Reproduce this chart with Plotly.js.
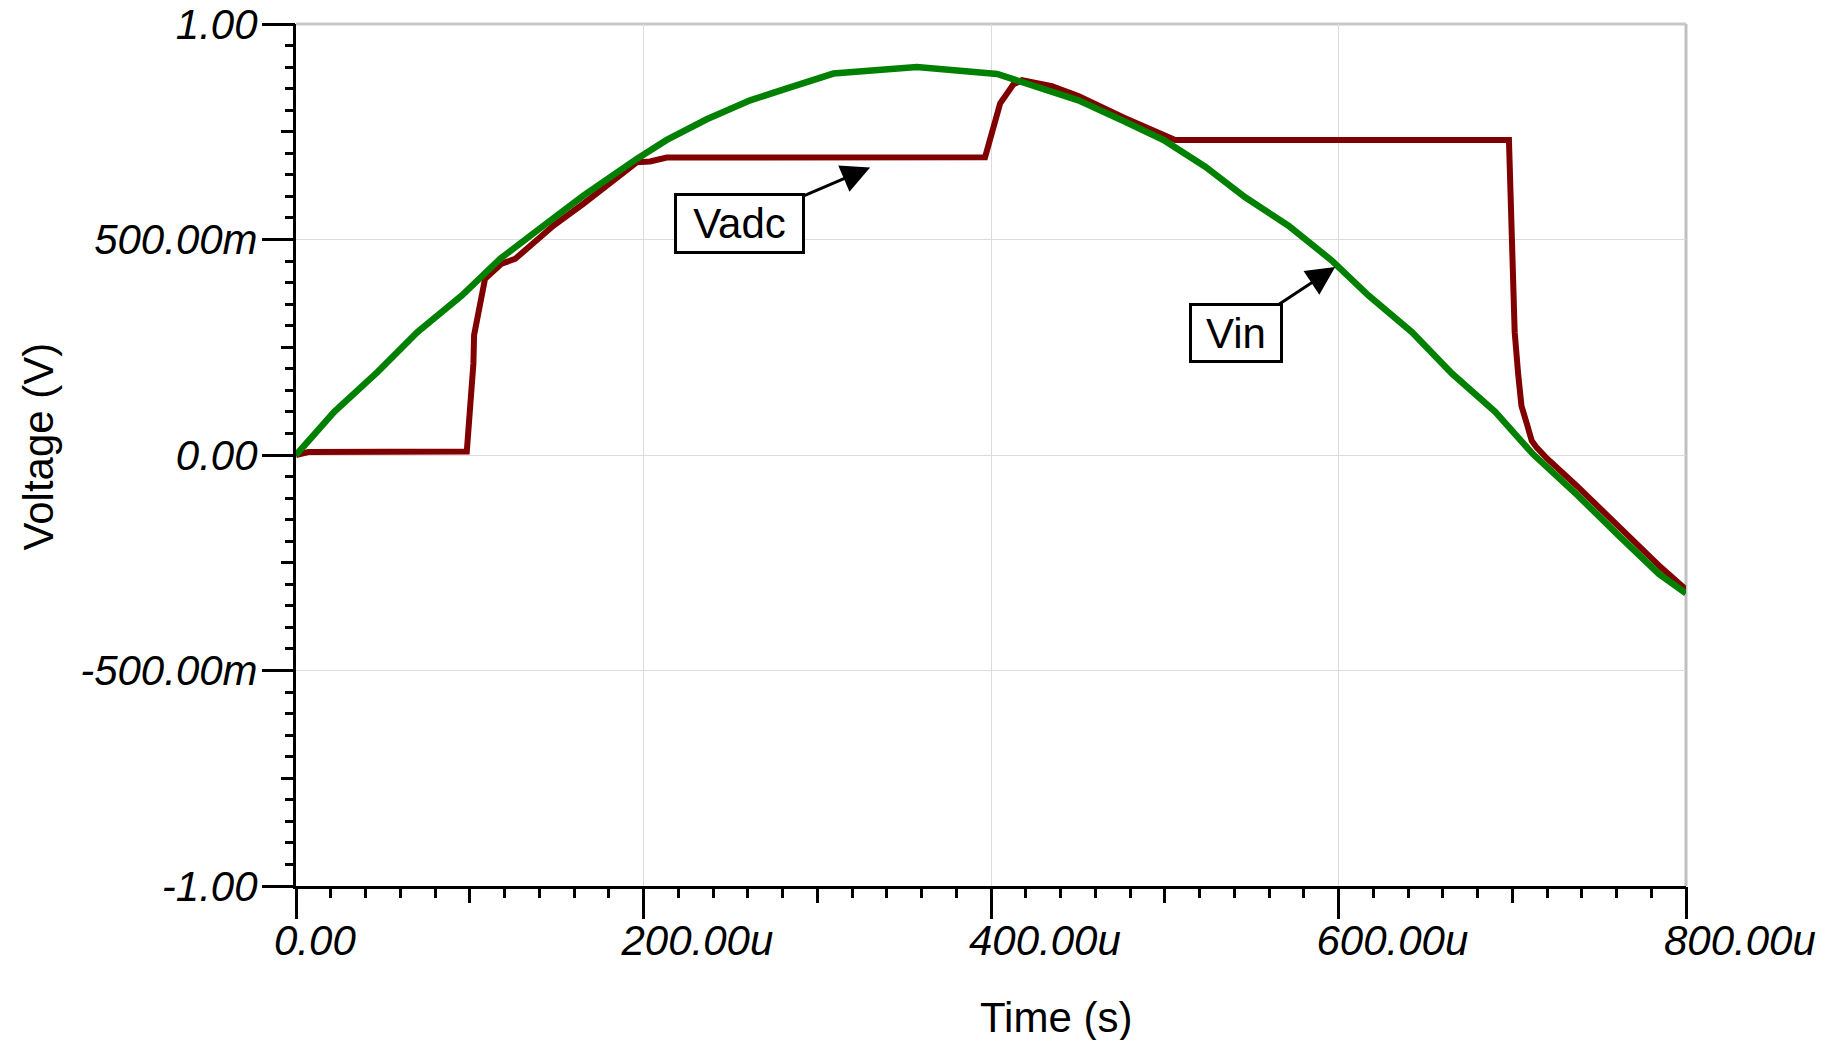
<!DOCTYPE html>
<html>
<head>
<meta charset="utf-8">
<script src="https://cdn.plot.ly/plotly-3.0.1.min.js"></script>
<style>
  html, body { margin: 0; padding: 0; background: #ffffff; }
  #chart { width: 1827px; height: 1040px; }
</style>
</head>
<body>
<div id="chart"></div>
<script>
// ---- Data (time in microseconds, voltage in volts) ----
const vinTime = [0, 22.0, 47.0, 69.8, 95.4, 117.4, 142.4, 165.4, 196.1, 213.4, 236.4, 261.4, 284.4, 309.3, 357.3, 403.5, 427.3, 450.3, 476.3, 499.3, 523.3, 546.3, 571.2, 596.2, 617.3, 642.3, 665.3, 690.2, 712.2, 737.5, 761.0, 784.4, 800.0];
const vinVolts = [0, 0.100, 0.193, 0.285, 0.370, 0.455, 0.532, 0.602, 0.687, 0.731, 0.779, 0.823, 0.853, 0.885, 0.900, 0.884, 0.853, 0.823, 0.775, 0.731, 0.669, 0.598, 0.532, 0.451, 0.370, 0.285, 0.189, 0.100, 0.001, -0.093, -0.186, -0.276, -0.321];

const vadcTime = [0, 7.1, 98.3, 101.1, 102.1, 102.5, 105.9, 108.8, 118.4, 126.1, 140.5, 148.1, 165.4, 180.8, 196.1, 203.8, 213.4, 396.6, 405.3, 412.9, 417.8, 435.0, 450.3, 476.3, 499.3, 506.0, 698.1, 700.1, 701.4, 703.4, 705.3, 708.3, 710.2, 711.2, 714.1, 720.0, 737.5, 754.1, 762.9, 785.4, 800.0];
const vadcVolts = [0, 0.007, 0.008, 0.143, 0.212, 0.278, 0.351, 0.409, 0.444, 0.455, 0.505, 0.532, 0.583, 0.629, 0.679, 0.681, 0.690, 0.691, 0.816, 0.860, 0.870, 0.856, 0.833, 0.783, 0.741, 0.731, 0.731, 0.423, 0.285, 0.188, 0.114, 0.074, 0.049, 0.033, 0.017, -0.008, -0.073, -0.138, -0.170, -0.260, -0.312];

const xTickVals = [0, 200, 400, 600, 800];
const xTickText = ["0.00", "200.00u", "400.00u", "600.00u", "800.00u"];
const yTickVals = [-1, -0.5, 0, 0.5, 1];
const yTickText = ["-1.00", "-500.00m", "0.00", "500.00m", "1.00"];

const labelFont = "Liberation Sans, Arial, Helvetica, sans-serif";

const traces = [
  { x: vadcTime, y: vadcVolts, type: "scatter", mode: "lines", name: "Vadc",
    line: { color: "#800000", width: 6 }, hoverinfo: "x+y" },
  { x: vinTime, y: vinVolts, type: "scatter", mode: "lines", name: "Vin",
    line: { color: "#008000", width: 6.5 }, hoverinfo: "x+y" },
  // empty trace so the overlay axes (medium ticks) are drawn
  { x: [], y: [], xaxis: "x2", yaxis: "y2", type: "scatter", mode: "lines",
    showlegend: false, hoverinfo: "skip" }
];

const layout = {
  width: 1827, height: 1040,
  margin: { l: 296, r: 141, t: 24, b: 154 },
  paper_bgcolor: "#ffffff",
  plot_bgcolor: "#ffffff",
  showlegend: false,
  xaxis: {
    range: [0, 800], fixedrange: true,
    showline: true, linecolor: "#000000", linewidth: 3,
    ticks: "outside", ticklen: 30, tickwidth: 3, tickcolor: "#000000",
    tickmode: "array", tickvals: xTickVals, ticktext: xTickText,
    tickfont: { family: labelFont, size: 42, style: "italic", color: "#000000" },
    ticklabelposition: "outside right", ticklabelshift: -25, ticklabelstandoff: 16,
    showgrid: true, gridcolor: "#dcdcdc", gridwidth: 1, zeroline: false,
    minor: { tickmode: "linear", tick0: 0, dtick: 20, ticks: "outside", ticklen: 9,
             tickwidth: 3, tickcolor: "#000000", showgrid: false }
  },
  yaxis: {
    range: [-1, 1], fixedrange: true,
    showline: true, linecolor: "#000000", linewidth: 3,
    ticks: "outside", ticklen: 31, tickwidth: 3, tickcolor: "#000000",
    tickmode: "array", tickvals: yTickVals, ticktext: yTickText,
    tickfont: { family: labelFont, size: 42, style: "italic", color: "#000000" },
    ticklabelstandoff: -4,
    showgrid: true, gridcolor: "#dcdcdc", gridwidth: 1, zeroline: false,
    minor: { tickmode: "linear", tick0: 0, dtick: 0.05, ticks: "outside", ticklen: 8,
             tickwidth: 3, tickcolor: "#000000", showgrid: false }
  },
  xaxis2: {
    overlaying: "x", anchor: "y", side: "bottom", range: [0, 800], fixedrange: true,
    tickmode: "linear", tick0: 0, dtick: 100, ticks: "outside", ticklen: 16,
    tickwidth: 3, tickcolor: "#000000", showticklabels: false,
    showgrid: false, zeroline: false, showline: false
  },
  yaxis2: {
    overlaying: "y", anchor: "x", side: "left", range: [-1, 1], fixedrange: true,
    tickmode: "linear", tick0: 0, dtick: 0.25, ticks: "outside", ticklen: 14,
    tickwidth: 3, tickcolor: "#000000", showticklabels: false,
    showgrid: false, zeroline: false, showline: false
  },
  shapes: [
    { type: "line", xref: "paper", yref: "paper", x0: 0, x1: 1, y0: 1, y1: 1,
      line: { color: "#c8c8c8", width: 3 }, layer: "below" },
    { type: "line", xref: "paper", yref: "paper", x0: 1, x1: 1, y0: 0, y1: 1,
      line: { color: "#c0c0c0", width: 3 }, layer: "below" }
  ],
  annotations: [
    { x: 330.4, y: 0.667, xref: "x", yref: "y", text: "Vadc",
      showarrow: true, ax: -131, ay: 56, arrowhead: 2, arrowsize: 1.9, arrowwidth: 3,
      arrowcolor: "#000000", standoff: 0,
      font: { family: labelFont, size: 42, color: "#000000" },
      bgcolor: "#ffffff", bordercolor: "#000000", borderwidth: 3, borderpad: 0,
      width: 125, height: 55 },
    { x: 598.1, y: 0.436, xref: "x", yref: "y", text: "Vin",
      showarrow: true, ax: -99.5, ay: 66, arrowhead: 2, arrowsize: 1.9, arrowwidth: 3,
      arrowcolor: "#000000", standoff: 0,
      font: { family: labelFont, size: 42, color: "#000000" },
      bgcolor: "#ffffff", bordercolor: "#000000", borderwidth: 3, borderpad: 0,
      width: 88, height: 54 },
    { x: 0.547, y: -0.152, xref: "paper", yref: "paper", text: "Time (s)",
      showarrow: false, xanchor: "center", yanchor: "middle",
      font: { family: labelFont, size: 42, color: "#000000" } },
    { x: -0.1853, y: 0.5104, xref: "paper", yref: "paper", text: "Voltage (V)",
      showarrow: false, xanchor: "center", yanchor: "middle", textangle: -90,
      font: { family: labelFont, size: 42, color: "#000000" } }
  ]
};

Plotly.newPlot("chart", traces, layout, { staticPlot: true, displayModeBar: false });
</script>
</body>
</html>
